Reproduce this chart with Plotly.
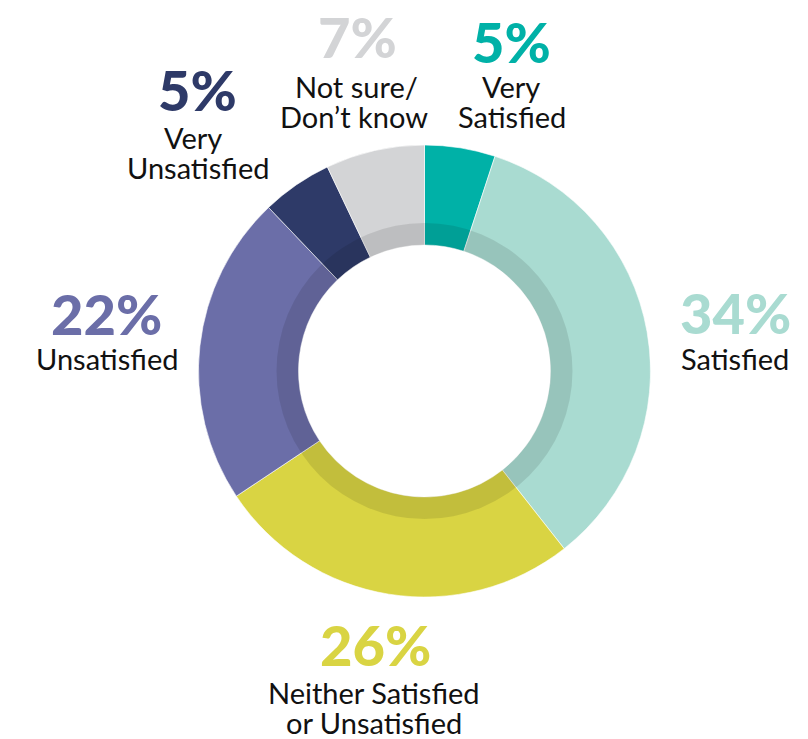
import plotly.graph_objects as go

categories = ["Very Satisfied", "Satisfied", "Neither Satisfied or Unsatisfied",
              "Unsatisfied", "Very Unsatisfied", "Not sure/ Don\u2019t know"]
label_lines = [["Very", "Satisfied"], ["Satisfied"],
               ["Neither Satisfied", "or Unsatisfied"], ["Unsatisfied"],
               ["Very", "Unsatisfied"], ["Not sure/", "Don\u2019t know"]]
values = [5, 34, 26, 22, 5, 7]
colors = ["#00b1a7", "#a9dbd1", "#d9d443", "#6b6ea8", "#2e3a68", "#d3d4d6"]

# The page body has an 8px margin; work in reference pixels and shift.
OFF = 8
W, H = 808 - OFF, 739 - OFF
cx, cy = 424.5 - OFF, 371.0 - OFF
R_outer, R_shadow, R_hole = 226.0, 148.0, 126.0


def dom(r):
    return dict(x=[(cx - r) / W, (cx + r) / W],
                y=[(H - cy - r) / H, (H - cy + r) / H])


fig = go.Figure()
fig.add_trace(go.Pie(
    labels=categories, values=values, sort=False, direction="clockwise",
    rotation=0, hole=R_hole / R_outer, domain=dom(R_outer),
    marker=dict(colors=colors, line=dict(color="white", width=0.6)),
    textinfo="none", hoverinfo="label+value", showlegend=False,
))
fig.add_trace(go.Pie(
    labels=["shade"], values=[1], sort=False, hole=R_hole / R_shadow,
    domain=dom(R_shadow),
    marker=dict(colors=["rgba(0,0,0,0.10)"], line=dict(width=0)),
    textinfo="none", hoverinfo="skip", showlegend=False,
))

# text centers in reference pixels: (x, y of percent, [y of each label line], [x of each line])
label_pos = [
    (511, 42, [86.5, 116], [511, 512]),
    (735.5, 312.5, [358.5], [735]),
    (375, 644, [692.5, 722.5], [373.5, 373.5]),
    (106.5, 313, [358.5], [106.5]),
    (197.5, 89, [138, 167.5], [193, 197.5]),
    (357, 36, [86.5, 116], [356, 354]),
]


def px(x):
    return (x - OFF) / W


def py(y):
    return 1 - (y - OFF) / H


annotations = []
for lines, v, col, (xp, yp, ylines, xlines) in zip(label_lines, values, colors, label_pos):
    annotations.append(dict(
        x=px(xp), y=py(yp), xref="paper", yref="paper",
        text=f"{v}%", showarrow=False, xanchor="center", yanchor="middle",
        font=dict(family="Lato", size=56, color=col, weight=900),
    ))
    for line, yl, xl in zip(lines, ylines, xlines):
        annotations.append(dict(
            x=px(xl), y=py(yl), xref="paper", yref="paper",
            text=line, showarrow=False, xanchor="center", yanchor="middle",
            font=dict(family="Lato", size=29, color="#111111"),
        ))

fig.update_layout(
    width=W, height=H, margin=dict(l=0, r=0, t=0, b=0),
    paper_bgcolor="white", plot_bgcolor="white",
    annotations=annotations,
)
fig.write_html("out.html")
